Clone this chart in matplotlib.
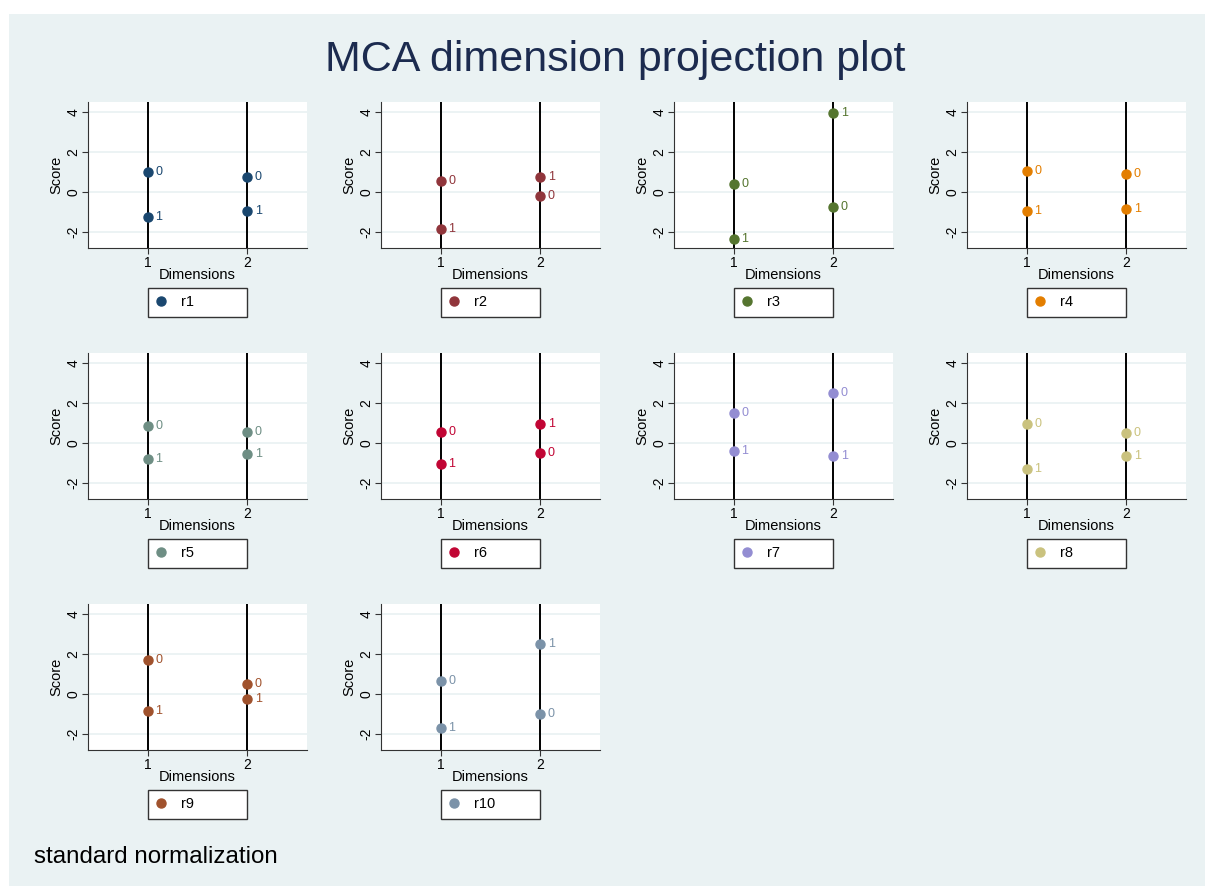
import matplotlib.pyplot as plt
from matplotlib.patches import Rectangle
from matplotlib.lines import Line2D

plt.rcParams['font.family'] = ['Liberation Sans', 'DejaVu Sans']
plt.rcParams['axes.unicode_minus'] = False

# MCA coordinates, standard normalization
variables = ['r1', 'r2', 'r3', 'r4', 'r5', 'r6', 'r7', 'r8', 'r9', 'r10']
dimensions = [1, 2]
categories = ['0', '1']
# score of category 0 / category 1 on dimensions 1 and 2
score_cat0 = [[1.00, 0.75], [0.55, -0.20], [0.42, -0.77], [1.05, 0.92], [0.85, 0.55],
              [0.53, -0.50], [1.50, 2.50], [0.97, 0.48], [1.70, 0.48], [0.65, -1.00]]
score_cat1 = [[-1.25, -0.95], [-1.85, 0.75], [-2.35, 3.95], [-0.95, -0.85], [-0.80, -0.55],
              [-1.05, 0.95], [-0.40, -0.65], [-1.28, -0.65], [-0.87, -0.27], [-1.70, 2.50]]
colors = ['#1a476f', '#90353b', '#55752f', '#e37e00', '#6e8e84',
          '#c10534', '#938dd2', '#cac27e', '#a0522d', '#7b92a8']

W, H = 1205, 886
BG = '#eaf2f3'

fig = plt.figure(figsize=(W / 100, H / 100), dpi=100, facecolor='white')

# stata-like graph region
fig.patches.append(Rectangle((9 / W, 0), 1 - 9 / W, 1 - 14 / H,
                             transform=fig.transFigure, facecolor=BG,
                             edgecolor='none', zorder=-10))

fig.text(615 / W, 1 - 60 / H, 'MCA dimension projection plot', ha='center', va='center',
         fontsize=31, color='#1c2b4f')
fig.text(34 / W, 1 - 857 / H, 'standard normalization', ha='left', va='center',
         fontsize=17.4, color='black')

def px_axes(left, top, width, height):
    return fig.add_axes([left / W, 1 - (top + height) / H, width / W, height / H])

for i, var in enumerate(variables):
    row, col = divmod(i, 4)
    ax = px_axes(88 + col * 293, 102 + row * 251, 219, 146)
    ax.set_facecolor('white')
    ax.set_xlim(0.4, 2.6)
    ax.set_ylim(-2.8, 4.5)
    for s in ['top', 'right']:
        ax.spines[s].set_visible(False)
    for s in ['left', 'bottom']:
        ax.spines[s].set_color('#333333')
        ax.spines[s].set_linewidth(0.8)

    ax.set_yticks([-2, 0, 2, 4])
    ax.set_xticks(dimensions)
    ax.tick_params(axis='both', length=4, width=0.8, color='#333333',
                   labelsize=10, pad=1.5)
    for lab in ax.get_yticklabels():
        lab.set_rotation(90)
        lab.set_va('center')
    ax.grid(axis='y', color=BG, linewidth=1.3)
    ax.set_axisbelow(True)
    for d in dimensions:
        ax.axvline(d, color='black', linewidth=1.4, zorder=1)

    ax.set_xlabel('Dimensions', fontsize=10.5, labelpad=-1)
    ax.set_ylabel('Score', fontsize=10.5, labelpad=2)

    c = colors[i]
    for cat, scores in zip(categories, [score_cat0[i], score_cat1[i]]):
        ax.plot(dimensions, scores, 'o', linestyle='none', color=c, markersize=6.5,
                zorder=3, clip_on=False)
        for d, s in zip(dimensions, scores):
            ax.annotate(cat, (d, s), xytext=(5.5, 0), textcoords='offset points',
                        ha='left', va='center', fontsize=9, color=c)

    handle = Line2D([], [], marker='o', linestyle='none', color=c, markersize=6.5)
    ax.legend([handle], [var], loc='center', mode='expand',
              bbox_to_anchor=(0.6 / 2.2, -0.373 - 0.1, 1 / 2.2, 0.2),
              fancybox=False, framealpha=1, edgecolor='#333333', facecolor='white',
              fontsize=10.5, handlelength=0.8, handletextpad=1.0,
              borderpad=0.5, borderaxespad=0)
    leg = ax.get_legend()
    leg._legend_box.align = 'left'

fig.savefig('out.png', dpi=100, facecolor=fig.get_facecolor())
